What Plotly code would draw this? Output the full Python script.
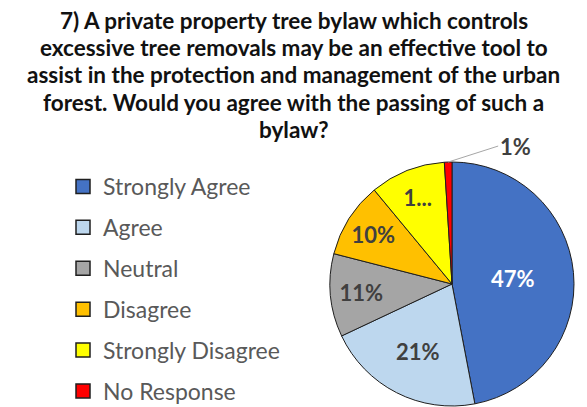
import math
import plotly.graph_objects as go

# Survey responses
categories = ["Strongly Agree", "Agree", "Neutral", "Disagree", "Strongly Disagree", "No Response"]
shares = [47, 21, 11, 10, 10, 1]
slice_labels = ["47%", "21%", "11%", "10%", "1...", ""]
colors = ["#4472C4", "#BDD7EE", "#A5A5A5", "#FFC000", "#FFFF00", "#FF0000"]
text_colors = ["#FFFFFF", "#404040", "#404040", "#404040", "#404040", "#404040"]
title_lines = [
    "7) A private property tree bylaw which controls",
    "excessive tree removals may be an effective tool to",
    "assist in the protection and management of the urban",
    "forest. Would you agree with the passing of such a",
    "bylaw?",
]

W, H = 587, 407
FONT = "Lato"
OUTLINE = "#1F1F1F"

# pie geometry in pixels
cx, cy, r = 452, 284, 122
dom_x = [(cx - r) / W, (cx + r) / W]
dom_y = [1 - (cy + r) / H, 1 - (cy - r) / H]

fig = go.Figure()
fig.add_trace(go.Pie(
    labels=categories,
    values=shares,
    text=slice_labels,
    textinfo="text",
    textposition="inside",
    insidetextorientation="horizontal",
    textfont=dict(family=FONT, size=22, color=text_colors, weight="bold"),
    marker=dict(colors=colors, line=dict(color=OUTLINE, width=1)),
    sort=False,
    direction="clockwise",
    rotation=0,
    domain=dict(x=dom_x, y=dom_y),
    showlegend=False,
    hoverinfo="label+percent",
))

# legend entries: one square swatch per category
for name, col in zip(categories, colors):
    fig.add_trace(go.Scatter(
        x=[None], y=[None], mode="markers", name=name, legendgroup=name,
        marker=dict(symbol="square", size=14, color=col, line=dict(color=OUTLINE, width=1.5)),
        hoverinfo="skip",
    ))

# outside label for the smallest slice, with leader line
total = sum(shares)
mid = (sum(shares[:-1]) + shares[-1] / 2) / total
ang = 2 * math.pi * mid
px = cx + r * math.sin(ang)
py = cy - r * math.cos(ang)
fig.add_annotation(
    x=px / W, y=1 - py / H, xref="paper", yref="paper",
    text=f"<b>{shares[-1]}%</b>", showarrow=True, arrowhead=0,
    arrowcolor="#A6A6A6", arrowwidth=1, ax=50, ay=-16,
    xanchor="left", yanchor="middle",
    font=dict(family=FONT, size=22, color="#404040"),
)

# multi-line heading
line_y = [20.5, 47.7, 74.9, 102.1, 129.3]
for txt, yy in zip(title_lines, line_y):
    fig.add_annotation(
        x=0.5, y=1 - yy / H, xref="paper", yref="paper",
        text=f"<b>{txt}</b>", showarrow=False,
        xanchor="center", yanchor="middle",
        font=dict(family=FONT, size=22.5, color="#111111"),
    )

fig.update_layout(
    width=W, height=H,
    margin=dict(l=0, r=0, t=0, b=0, autoexpand=False),
    paper_bgcolor="white",
    plot_bgcolor="white",
    xaxis=dict(visible=False),
    yaxis=dict(visible=False),
    showlegend=True,
    legend=dict(
        x=63 / W, y=1 - 165 / H, xanchor="left", yanchor="top",
        font=dict(family=FONT, size=23, color="#595959"),
        tracegroupgap=8, itemclick=False,
        bgcolor="rgba(0,0,0,0)",
    ),
)

fig.write_html("out.html")
